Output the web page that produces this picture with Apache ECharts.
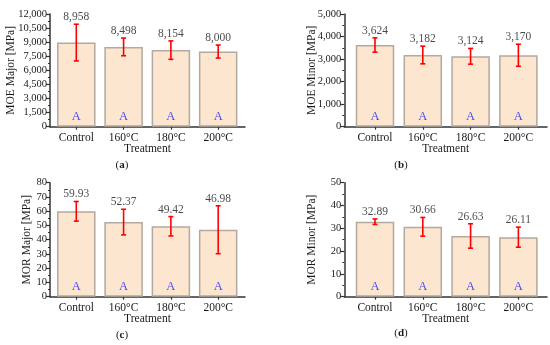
<!DOCTYPE html>
<html><head><meta charset="utf-8">
<script src="https://cdn.jsdelivr.net/npm/echarts@6/dist/echarts.min.js"></script>
<style>html,body{margin:0;padding:0;background:#fff}#c{width:550px;height:345px}</style>
</head><body><div id="c"></div>
<script>
const categories = ['Control', '160°C', '180°C', '200°C'];
const letters = ['A', 'A', 'A', 'A'];
const moeMajor = [8958, 8498, 8154, 8000];
const moeMajorSd = [1954, 943, 980, 690];
const moeMinor = [3624, 3182, 3124, 3170];
const moeMinorSd = [317, 392, 349, 489];
const morMajor = [59.93, 52.37, 49.42, 46.98];
const morMajorSd = [6.9, 9.0, 6.8, 16.8];
const morMinor = [32.89, 30.66, 26.63, 26.11];
const morMinorSd = [1.2, 4.1, 5.35, 4.4];
const yTicksA = [0, 12000, 1500];
const yTicksB = [0, 5000, 1000];
const yTicksC = [0, 80, 10];
const yTicksD = [0, 50, 10];

const FONT = 'Liberation Serif';
const TXT = '#1a1a1a';
const fmtInt = v => Math.round(v).toString().replace(/\B(?=(\d{3})+(?!\d))/g, ',');
const fmt2 = v => v.toFixed(2);

const panels = [
  {name: 'MOE Major [MPa]', mean: moeMajor, sd: moeMajorSd, y: yTicksA, fmt: fmtInt,
   grid: {left: 50, top: 14, width: 195, height: 112.7}, xr: [0.444, 4.567], nameGap: 33},
  {name: 'MOE Minor [MPa]', mean: moeMinor, sd: moeMinorSd, y: yTicksB, fmt: fmtInt,
   grid: {left: 344.3, top: 14, width: 202.7, height: 112.7}, xr: [0.358, 4.599], nameGap: 26.5},
  {name: 'MOR Major [MPa]', mean: morMajor, sd: morMajorSd, y: yTicksC, fmt: fmt2,
   grid: {left: 50, top: 182.7, width: 195, height: 114}, xr: [0.444, 4.567], nameGap: 17},
  {name: 'MOR Minor [MPa]', mean: morMinor, sd: morMinorSd, y: yTicksD, fmt: fmt2,
   grid: {left: 344.3, top: 182.7, width: 202.7, height: 114}, xr: [0.358, 4.599], nameGap: 26}
];

const grid = [], xAxis = [], yAxis = [], series = [];
const xs = categories.map((c, i) => i + 1);
panels.forEach((p, k) => {
  grid.push(p.grid);
  xAxis.push({
    type: 'value', gridIndex: k, min: p.xr[0], max: p.xr[1],
    name: 'Treatment', nameLocation: 'middle', nameGap: 16, nameMoveOverlap: false,
    nameTextStyle: {fontFamily: FONT, fontSize: 11.5, color: TXT},
    axisLine: {show: true, onZero: false, lineStyle: {color: '#333', width: 1.5}},
    axisTick: {show: true, customValues: xs, length: 3, lineStyle: {color: '#333', width: 1.2}},
    axisLabel: {customValues: xs, margin: 5, fontFamily: FONT, fontSize: 11.5, color: TXT,
      formatter: v => categories[Math.round(v) - 1] || ''},
    splitLine: {show: false}
  });
  yAxis.push({
    type: 'value', gridIndex: k, min: p.y[0], max: p.y[1], interval: p.y[2],
    name: p.name, nameLocation: 'middle', nameGap: p.nameGap, nameMoveOverlap: false,
    nameTextStyle: {fontFamily: FONT, fontSize: 11.5, color: TXT},
    axisLine: {show: true, lineStyle: {color: '#333', width: 1.5}},
    axisTick: {show: true, length: 4, lineStyle: {color: '#333', width: 1.2}},
    minorTick: {show: true, splitNumber: 2, length: 2, lineStyle: {color: '#333', width: 1}},
    axisLabel: {margin: 3, fontFamily: FONT, fontSize: 10.5, color: TXT,
      formatter: v => fmtInt(v)},
    splitLine: {show: false}
  });
  series.push({
    type: 'bar', xAxisIndex: k, yAxisIndex: k, barWidth: 38.5,
    data: p.mean.map((v, i) => [xs[i], v]),
    itemStyle: {color: '#fde6cf', borderColor: '#b3a99f', borderWidth: 1.5},
    silent: true
  });
  series.push({
    type: 'custom', xAxisIndex: k, yAxisIndex: k,
    data: p.mean.map((v, i) => [xs[i], v - p.sd[i], v + p.sd[i]]),
    renderItem: (params, api) => {
      const lo = api.coord([api.value(0), api.value(1)]);
      const hi = api.coord([api.value(0), api.value(2)]);
      const w = 2.5;
      const st = {stroke: '#ff0000', lineWidth: 1.6};
      return {type: 'group', children: [
        {type: 'line', shape: {x1: lo[0], y1: lo[1], x2: hi[0], y2: hi[1]}, style: st},
        {type: 'line', shape: {x1: lo[0] - w, y1: lo[1], x2: lo[0] + w, y2: lo[1]}, style: st},
        {type: 'line', shape: {x1: hi[0] - w, y1: hi[1], x2: hi[0] + w, y2: hi[1]}, style: st}
      ]};
    },
    z: 5
  });
  series.push({
    type: 'scatter', xAxisIndex: k, yAxisIndex: k, symbolSize: 0,
    data: p.mean.map((v, i) => ({value: [xs[i], v + p.sd[i]], label: {formatter: p.fmt(v)}})),
    label: {show: true, position: 'top', distance: 1, fontFamily: FONT, fontSize: 11.5, color: TXT},
    z: 6
  });
  series.push({
    type: 'scatter', xAxisIndex: k, yAxisIndex: k, symbolSize: 0,
    data: letters.map((l, i) => ({value: [xs[i], 0], label: {formatter: l}})),
    label: {show: true, position: 'top', distance: 3, fontFamily: FONT, fontSize: 12.5, color: '#1a1aff'},
    z: 6
  });
});

const caps = [['a', 122, 165], ['b', 401, 165], ['c', 122, 335.5], ['d', 401, 333.5]];
const graphic = caps.map(c => ({
  type: 'text', x: c[1], y: c[2],
  style: {text: '(' + '{b|' + c[0] + '})', align: 'center', verticalAlign: 'middle',
    font: '11px "Liberation Serif"', fill: TXT,
    rich: {b: {fontWeight: 'bold', fontFamily: FONT, fontSize: 11, fill: TXT}}}
}));

const chart = echarts.init(document.getElementById('c'), null, {renderer: 'canvas'});
chart.setOption({animation: false, grid, xAxis, yAxis, series, graphic});
</script></body></html>
